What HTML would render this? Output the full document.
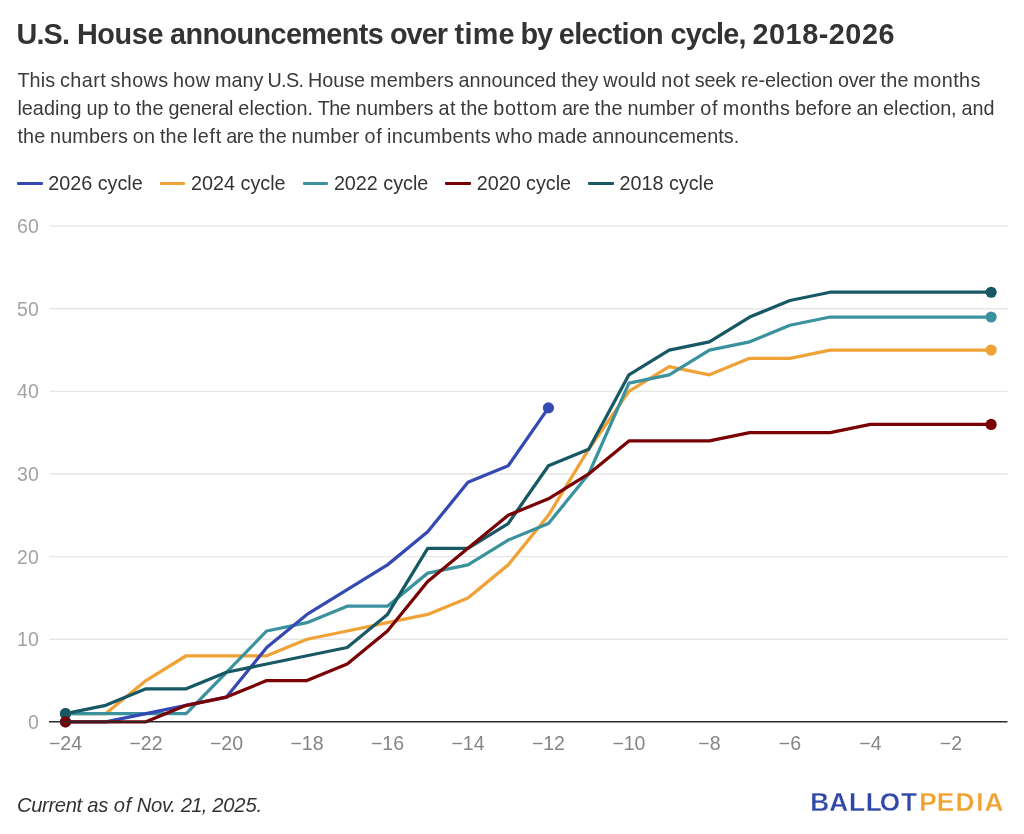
<!DOCTYPE html>
<html lang="en"><head><meta charset="utf-8"><title>U.S. House announcements over time by election cycle, 2018-2026</title>
<style>
html,body{margin:0;padding:0;background:#fff;}
body{width:1024px;height:834px;position:relative;overflow:hidden;font-family:"Liberation Sans",sans-serif;color:#333;}
.abs{position:absolute;white-space:nowrap;margin:0;}
.w{left:0;width:1024px;height:30px;}
.w span{position:absolute;top:0;}
h1{font-size:28.8px;font-weight:700;line-height:34px;color:#333;}
.d{font-size:19.8px;line-height:28px;color:#3a3a3a;}
.lg{position:absolute;top:169px;font-size:19.75px;line-height:28px;white-space:nowrap;color:#333;padding-left:31.3px;}
.lg i{position:absolute;left:0;top:12.6px;width:25.6px;height:3.25px;border-radius:1px;}
#chart{position:absolute;left:0;top:0;}
.yl{font-size:19.5px;fill:#a3a3a3;font-family:"Liberation Sans",sans-serif;}
.xl{font-size:19.5px;fill:#858585;font-family:"Liberation Sans",sans-serif;}
.note{font-size:20.2px;font-style:italic;line-height:28px;color:#333;}
.lb{fill:#2f47a8;} .lp{fill:#f0a22e;}
#logosvg{position:absolute;left:0;top:0;}
#logosvg text{font-family:"Liberation Sans",sans-serif;font-size:26.2px;font-weight:700;stroke:#fff;stroke-width:0.3px;}
</style></head><body>
<h1 class="abs w" id="title" style="top:17px"><span style="left:16.6px;letter-spacing:-0.90px">U.S.</span> <span style="left:76.9px;letter-spacing:-0.34px">House</span> <span style="left:170.1px;letter-spacing:-0.60px">announcements</span> <span style="left:389.9px;letter-spacing:-0.90px">over</span> <span style="left:454.6px;letter-spacing:0.24px">time</span> <span style="left:520.4px;letter-spacing:-0.90px">by</span> <span style="left:558.7px;letter-spacing:-0.55px">election</span> <span style="left:670.6px;letter-spacing:-0.84px">cycle,</span> <span style="left:752.5px;letter-spacing:0.53px">2018-2026</span></h1>
<p class="abs d w" id="d1" style="top:66.4px"><span style="left:17.4px;letter-spacing:0.11px">This</span> <span style="left:60.0px;letter-spacing:0.43px">chart</span> <span style="left:110.6px;letter-spacing:0.35px">shows</span> <span style="left:173.0px;letter-spacing:0.37px">how</span> <span style="left:214.9px;letter-spacing:0.01px">many</span> <span style="left:267.5px;letter-spacing:-0.70px">U.S.</span> <span style="left:308.1px;letter-spacing:-0.05px">House</span> <span style="left:370.0px;letter-spacing:0.21px">members</span> <span style="left:458.6px;letter-spacing:-0.02px">announced</span> <span style="left:561.2px;letter-spacing:-0.10px">they</span> <span style="left:603.2px;letter-spacing:0.33px">would</span> <span style="left:661.2px;letter-spacing:0.59px">not</span> <span style="left:694.7px;letter-spacing:-0.19px">seek</span> <span style="left:740.9px;letter-spacing:-0.03px">re-election</span> <span style="left:837.9px;letter-spacing:-0.23px">over</span> <span style="left:880.6px;letter-spacing:0.18px">the</span> <span style="left:913.3px;letter-spacing:0.45px">months</span></p>
<p class="abs d w" id="d2" style="top:94.3px"><span style="left:17.4px;letter-spacing:0.04px">leading</span> <span style="left:86.4px;letter-spacing:0.02px">up</span> <span style="left:113.5px;letter-spacing:0.70px">to</span> <span style="left:135.7px;letter-spacing:0.18px">the</span> <span style="left:168.5px;letter-spacing:-0.18px">general</span> <span style="left:238.3px;letter-spacing:0.14px">election.</span> <span style="left:317.7px;letter-spacing:-0.45px">The</span> <span style="left:355.8px;letter-spacing:0.12px">numbers</span> <span style="left:438.4px;letter-spacing:0.70px">at</span> <span style="left:460.5px;letter-spacing:0.18px">the</span> <span style="left:493.3px;letter-spacing:0.66px">bottom</span> <span style="left:561.9px;letter-spacing:-0.41px">are</span> <span style="left:594.6px;letter-spacing:0.17px">the</span> <span style="left:627.4px;letter-spacing:0.08px">number</span> <span style="left:700.2px;letter-spacing:0.70px">of</span> <span style="left:722.8px;letter-spacing:0.45px">months</span> <span style="left:794.9px;letter-spacing:0.14px">before</span> <span style="left:856.5px;letter-spacing:-0.31px">an</span> <span style="left:883.1px;letter-spacing:-0.02px">election,</span> <span style="left:961.6px;letter-spacing:-0.09px">and</span></p>
<p class="abs d w" id="d3" style="top:122.2px"><span style="left:17.4px;letter-spacing:0.18px">the</span> <span style="left:50.1px;letter-spacing:0.12px">numbers</span> <span style="left:132.7px;letter-spacing:0.19px">on</span> <span style="left:159.9px;letter-spacing:0.18px">the</span> <span style="left:192.7px;letter-spacing:0.70px">left</span> <span style="left:226.2px;letter-spacing:-0.41px">are</span> <span style="left:258.9px;letter-spacing:0.18px">the</span> <span style="left:291.6px;letter-spacing:0.08px">number</span> <span style="left:364.5px;letter-spacing:0.70px">of</span> <span style="left:387.1px;letter-spacing:0.27px">incumbents</span> <span style="left:495.5px;letter-spacing:0.38px">who</span> <span style="left:537.5px;letter-spacing:0.09px">made</span> <span style="left:592.1px;letter-spacing:0.07px">announcements.</span></p>
<p class="abs note w" id="note" style="top:791px"><span style="left:17.0px;letter-spacing:-0.35px">Current</span> <span style="left:87.2px;letter-spacing:-0.22px">as</span> <span style="left:113.7px;letter-spacing:0.70px">of</span> <span style="left:136.7px;letter-spacing:-0.28px">Nov.</span> <span style="left:180.7px;letter-spacing:-0.70px">21,</span> <span style="left:212.2px;letter-spacing:-0.15px">2025.</span></p>
<span class="lg" style="left:17.0px"><i style="background:#3549b3"></i>2026 cycle</span>
<span class="lg" style="left:159.8px"><i style="background:#f0a236"></i>2024 cycle</span>
<span class="lg" style="left:302.6px"><i style="background:#3b929e"></i>2022 cycle</span>
<span class="lg" style="left:445.4px"><i style="background:#790204"></i>2020 cycle</span>
<span class="lg" style="left:588.2px"><i style="background:#175864"></i>2018 cycle</span>
<svg id="chart" width="1024" height="834" viewBox="0 0 1024 834">
<line x1="49.5" x2="1007.5" y1="639.23" y2="639.23" stroke="#e6e6e6" stroke-width="1.3"/>
<line x1="49.5" x2="1007.5" y1="556.61" y2="556.61" stroke="#e6e6e6" stroke-width="1.3"/>
<line x1="49.5" x2="1007.5" y1="473.99" y2="473.99" stroke="#e6e6e6" stroke-width="1.3"/>
<line x1="49.5" x2="1007.5" y1="391.37" y2="391.37" stroke="#e6e6e6" stroke-width="1.3"/>
<line x1="49.5" x2="1007.5" y1="308.75" y2="308.75" stroke="#e6e6e6" stroke-width="1.3"/>
<line x1="49.5" x2="1007.5" y1="226.13" y2="226.13" stroke="#e6e6e6" stroke-width="1.3"/>
<polyline points="65.50,713.59 105.75,713.59 145.99,680.54 186.23,655.75 226.48,655.75 266.73,655.75 306.97,639.23 347.21,630.97 387.46,622.71 427.70,614.44 467.95,597.92 508.19,564.87 548.44,515.30 588.68,449.20 628.93,391.37 669.17,366.58 709.42,374.85 749.66,358.32 789.91,358.32 830.15,350.06 870.40,350.06 910.64,350.06 950.89,350.06 991.13,350.06" fill="none" stroke="#f0a236" stroke-width="3.25" stroke-linejoin="round" stroke-linecap="round"/>
<polyline points="65.50,713.59 105.75,713.59 145.99,713.59 186.23,713.59 226.48,672.28 266.73,630.97 306.97,622.71 347.21,606.18 387.46,606.18 427.70,573.13 467.95,564.87 508.19,540.09 548.44,523.56 588.68,473.99 628.93,383.11 669.17,374.85 709.42,350.06 749.66,341.80 789.91,325.27 830.15,317.01 870.40,317.01 910.64,317.01 950.89,317.01 991.13,317.01" fill="none" stroke="#3b929e" stroke-width="3.25" stroke-linejoin="round" stroke-linecap="round"/>
<polyline points="65.50,721.85 105.75,721.85 145.99,713.59 186.23,705.33 226.48,697.06 266.73,647.49 306.97,614.44 347.21,589.66 387.46,564.87 427.70,531.82 467.95,482.25 508.19,465.73 548.44,407.89" fill="none" stroke="#3549b3" stroke-width="3.25" stroke-linejoin="round" stroke-linecap="round"/>
<polyline points="65.50,713.59 105.75,705.33 145.99,688.80 186.23,688.80 226.48,672.28 266.73,664.02 306.97,655.75 347.21,647.49 387.46,614.44 427.70,548.35 467.95,548.35 508.19,523.56 548.44,465.73 588.68,449.20 628.93,374.85 669.17,350.06 709.42,341.80 749.66,317.01 789.91,300.49 830.15,292.23 870.40,292.23 910.64,292.23 950.89,292.23 991.13,292.23" fill="none" stroke="#175864" stroke-width="3.25" stroke-linejoin="round" stroke-linecap="round"/>
<polyline points="65.50,721.85 105.75,721.85 145.99,721.85 186.23,705.33 226.48,697.06 266.73,680.54 306.97,680.54 347.21,664.02 387.46,630.97 427.70,581.40 467.95,548.35 508.19,515.30 548.44,498.78 588.68,473.99 628.93,440.94 669.17,440.94 709.42,440.94 749.66,432.68 789.91,432.68 830.15,432.68 870.40,424.42 910.64,424.42 950.89,424.42 991.13,424.42" fill="none" stroke="#790204" stroke-width="3.25" stroke-linejoin="round" stroke-linecap="round"/>
<circle cx="65.50" cy="713.59" r="5.6" fill="#f0a236"/>
<circle cx="991.13" cy="350.06" r="5.6" fill="#f0a236"/>
<circle cx="65.50" cy="713.59" r="5.6" fill="#3b929e"/>
<circle cx="991.13" cy="317.01" r="5.6" fill="#3b929e"/>
<circle cx="65.50" cy="721.85" r="5.6" fill="#3549b3"/>
<circle cx="548.44" cy="407.89" r="5.6" fill="#3549b3"/>
<circle cx="65.50" cy="713.59" r="5.6" fill="#175864"/>
<circle cx="991.13" cy="292.23" r="5.6" fill="#175864"/>
<circle cx="65.50" cy="721.85" r="5.6" fill="#790204"/>
<circle cx="991.13" cy="424.42" r="5.6" fill="#790204"/>
<line x1="49" x2="1007.5" y1="721.85" y2="721.85" stroke="#2a2a2a" stroke-width="1.5"/>
<text class="yl" x="38.8" y="728.75" text-anchor="end">0</text>
<text class="yl" x="38.8" y="646.13" text-anchor="end">10</text>
<text class="yl" x="38.8" y="563.51" text-anchor="end">20</text>
<text class="yl" x="38.8" y="480.89" text-anchor="end">30</text>
<text class="yl" x="38.8" y="398.27" text-anchor="end">40</text>
<text class="yl" x="38.8" y="315.65" text-anchor="end">50</text>
<text class="yl" x="38.8" y="233.03" text-anchor="end">60</text>
<text class="xl" x="65.50" y="749.8" text-anchor="middle">−24</text>
<text class="xl" x="145.99" y="749.8" text-anchor="middle">−22</text>
<text class="xl" x="226.48" y="749.8" text-anchor="middle">−20</text>
<text class="xl" x="306.97" y="749.8" text-anchor="middle">−18</text>
<text class="xl" x="387.46" y="749.8" text-anchor="middle">−16</text>
<text class="xl" x="467.95" y="749.8" text-anchor="middle">−14</text>
<text class="xl" x="548.44" y="749.8" text-anchor="middle">−12</text>
<text class="xl" x="628.93" y="749.8" text-anchor="middle">−10</text>
<text class="xl" x="709.42" y="749.8" text-anchor="middle">−8</text>
<text class="xl" x="789.91" y="749.8" text-anchor="middle">−6</text>
<text class="xl" x="870.40" y="749.8" text-anchor="middle">−4</text>
<text class="xl" x="950.89" y="749.8" text-anchor="middle">−2</text>
</svg>
<svg id="logosvg" width="1024" height="834" viewBox="0 0 1024 834"><text id="logo" y="810.6" x="810.15 829.15 848.9 865.7 879.8 900.95 919.2 936.8 955.5 976.2 984.4"><tspan class="lb">BALLOT</tspan><tspan class="lp">PEDIA</tspan></text></svg>
</body></html>
